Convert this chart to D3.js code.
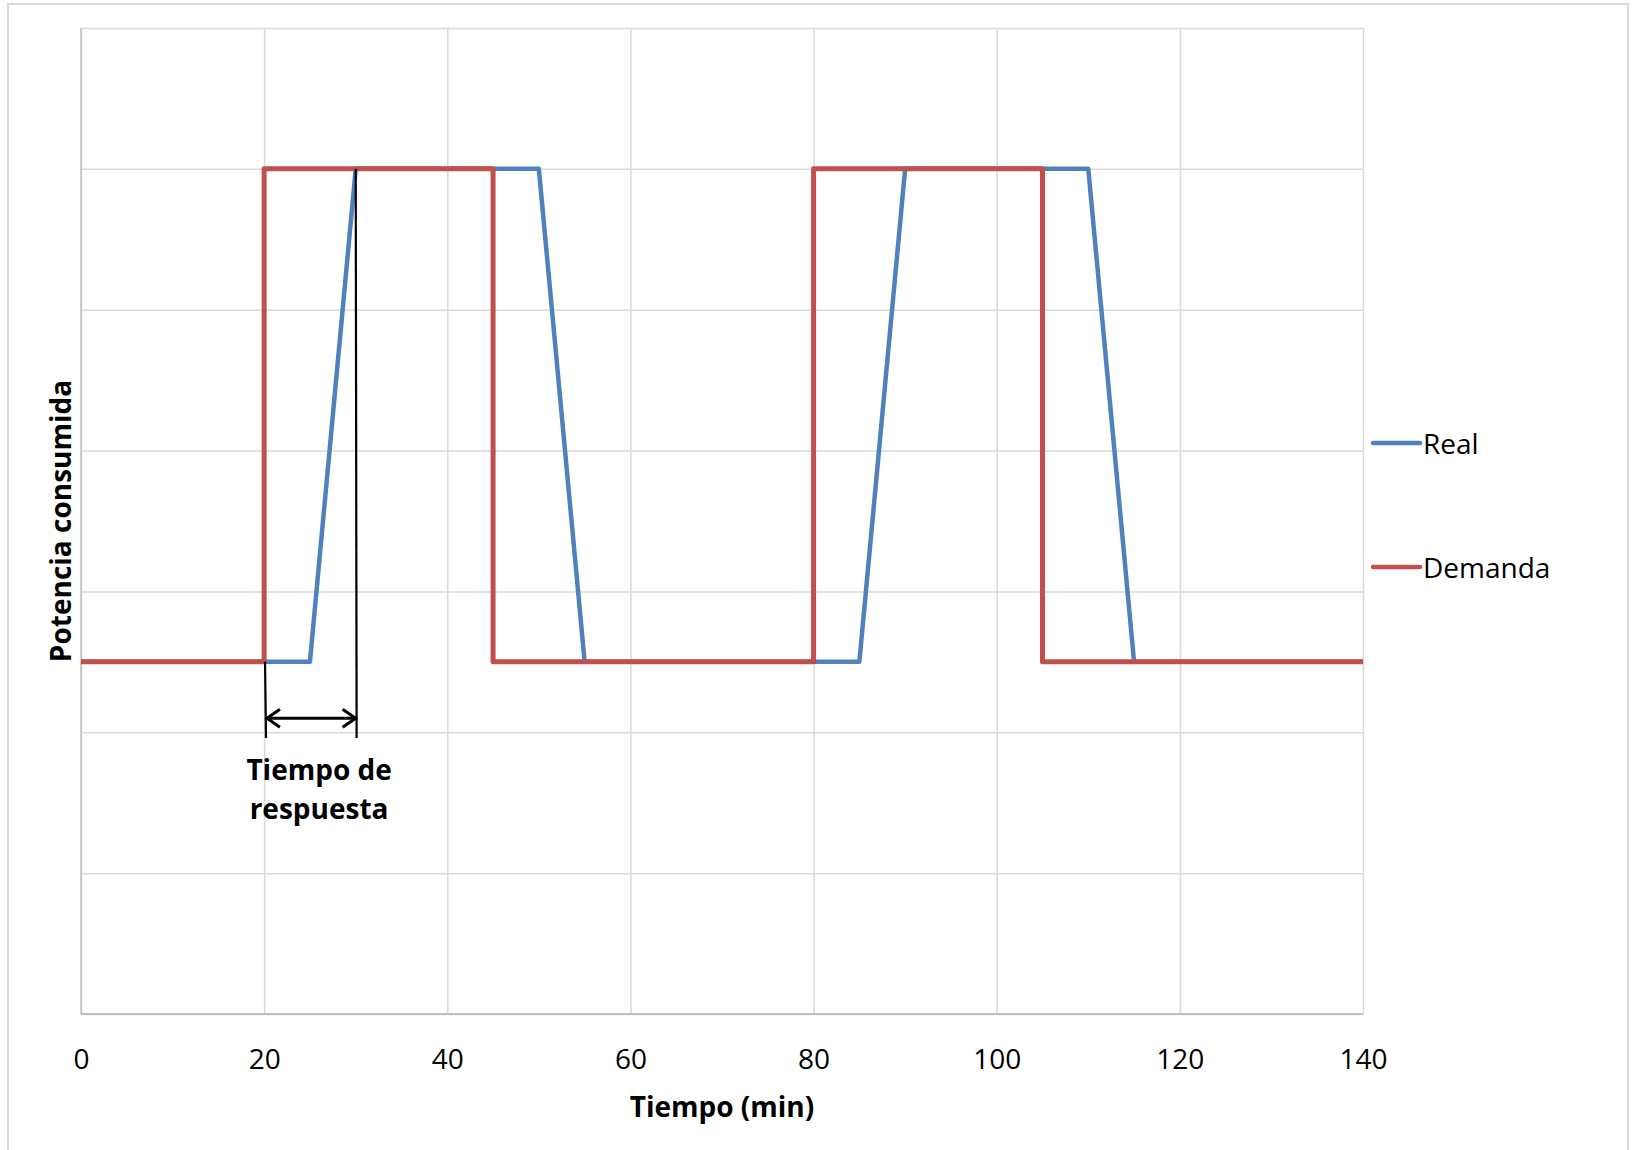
<!DOCTYPE html>
<html>
<head>
<meta charset="utf-8">
<script src="https://cdn.jsdelivr.net/npm/d3@7"></script>
<style>
  body { margin: 0; background: #fff; overflow: hidden; }
  svg { display: block; }
  text { font-family: "Open Sans", sans-serif; fill: #000; }
</style>
</head>
<body>
<svg></svg>
<script>
// data
const realTime = [0, 25, 30, 50, 55, 85, 90, 110, 115, 140];
const realPower = [2.5, 2.5, 6, 6, 2.5, 2.5, 6, 6, 2.5, 2.5];
const demandTime = [0, 20, 20, 45, 45, 80, 80, 105, 105, 140];
const demandPower = [2.5, 2.5, 6, 6, 2.5, 2.5, 6, 6, 2.5, 2.5];
const xTicks = [0, 20, 40, 60, 80, 100, 120, 140];
const yTicks = [0, 1, 2, 3, 4, 5, 6, 7];
const seriesNames = ['Real', 'Demanda'];
const colors = ['#4F81BD', '#C0504D'];

const width = 1632, height = 1150;
const margin = {top: 28, left: 81, right: 269, bottom: 136};
const innerWidth = width - margin.left - margin.right;
const innerHeight = height - margin.top - margin.bottom;

const svg = d3.select('svg')
  .attr('width', width)
  .attr('height', height);

// outer chart frame (bottom edge is outside the picture)
svg.append('path')
  .attr('d', `M8,${height} L8,4 L1628,4 L1628,${height}`)
  .attr('fill', 'none')
  .attr('stroke', '#d9d9d9')
  .attr('stroke-width', 2);

const xScale = d3.scaleLinear().domain([0, 140]).range([0, innerWidth]);
const yScale = d3.scaleLinear().domain([0, 7]).range([innerHeight, 0]);

const g = svg.append('g')
  .attr('transform', `translate(${margin.left}, ${margin.top})`);

// grid
g.append('g').call(d3.axisLeft(yScale).tickValues(yTicks).tickSize(-innerWidth).tickFormat(''))
  .call(a => a.select('.domain').remove())
  .selectAll('.tick line').attr('stroke', '#d9d9d9').attr('stroke-width', 1.5);
g.append('g').call(d3.axisBottom(xScale).tickValues(xTicks).tickSize(innerHeight).tickFormat(''))
  .call(a => a.select('.domain').remove())
  .selectAll('.tick line').attr('stroke', '#d9d9d9').attr('stroke-width', 1.5);

// axes lines
g.append('line')
  .attr('x1', 0).attr('x2', innerWidth)
  .attr('y1', innerHeight).attr('y2', innerHeight)
  .attr('stroke', '#bfbfbf').attr('stroke-width', 2);
g.append('line')
  .attr('x1', 0).attr('x2', 0)
  .attr('y1', 0).attr('y2', innerHeight)
  .attr('stroke', '#bfbfbf').attr('stroke-width', 1.5);

// x tick labels
g.append('g').call(d3.axisBottom(xScale).tickValues(xTicks).tickSize(0).tickPadding(0))
  .attr('transform', `translate(0, ${innerHeight})`)
  .call(a => a.select('.domain').remove())
  .selectAll('text')
  .attr('y', 55)
  .attr('dy', 0)
  .style('font-family', '"Open Sans", sans-serif')
  .style('font-size', '28px')
  .attr('fill', '#000');

// series
const line = d3.line().x(d => xScale(d[0])).y(d => yScale(d[1]));
const real = d3.zip(realTime, realPower);
const demand = d3.zip(demandTime, demandPower);

g.append('path').datum(real)
  .attr('d', line)
  .attr('fill', 'none')
  .attr('stroke', colors[0])
  .attr('stroke-width', 4.5)
  .attr('stroke-linejoin', 'round');

g.append('path').datum(demand)
  .attr('d', line)
  .attr('fill', 'none')
  .attr('stroke', colors[1])
  .attr('stroke-width', 5)
  .attr('stroke-linejoin', 'round');

// response time annotation
g.append('line')
  .attr('x1', xScale(30)).attr('x2', xScale(30.1))
  .attr('y1', yScale(6)).attr('y2', yScale(1.96))
  .attr('stroke', '#000').attr('stroke-width', 2.2);
g.append('line')
  .attr('x1', xScale(20.1)).attr('x2', xScale(20.2))
  .attr('y1', yScale(2.5)).attr('y2', yScale(1.96))
  .attr('stroke', '#000').attr('stroke-width', 2.2);

const ay = yScale(2.1);
const ax1 = xScale(20.2), ax2 = xScale(30.1);
g.append('line')
  .attr('x1', ax1 + 1).attr('x2', ax2 - 1)
  .attr('y1', ay).attr('y2', ay)
  .attr('stroke', '#000').attr('stroke-width', 3);
g.append('path')
  .attr('d', `M${ax1 + 14},${ay - 9} L${ax1 + 1},${ay} L${ax1 + 14},${ay + 9}`)
  .attr('fill', 'none').attr('stroke', '#000').attr('stroke-width', 3);
g.append('path')
  .attr('d', `M${ax2 - 14},${ay - 9} L${ax2 - 1},${ay} L${ax2 - 14},${ay + 9}`)
  .attr('fill', 'none').attr('stroke', '#000').attr('stroke-width', 3);

const note = g.append('text')
  .attr('x', xScale(26))
  .attr('y', yScale(2.1) + 62)
  .attr('text-anchor', 'middle')
  .style('font-size', '28px')
  .style('font-weight', 'bold');
note.append('tspan').attr('x', xScale(26)).text('Tiempo de');
note.append('tspan').attr('x', xScale(26)).attr('dy', 39).text('respuesta');

// axis titles
svg.append('text')
  .attr('x', margin.left + innerWidth / 2)
  .attr('y', 1117)
  .attr('text-anchor', 'middle')
  .style('font-size', '28px')
  .style('font-weight', 'bold')
  .text('Tiempo (min)');

svg.append('text')
  .attr('transform', `translate(71, ${margin.top + innerHeight / 2}) rotate(-90)`)
  .attr('text-anchor', 'middle')
  .style('font-size', '28px')
  .style('font-weight', 'bold')
  .text('Potencia consumida');

// legend
const legend = svg.append('g').attr('transform', 'translate(1373, 443)');
const item = legend.selectAll('g').data(seriesNames).enter().append('g')
  .attr('transform', (d, i) => `translate(0, ${i * 124})`);
item.append('line')
  .attr('x1', 0).attr('x2', 47)
  .attr('stroke', (d, i) => colors[i])
  .attr('stroke-width', 4.5)
  .attr('stroke-linecap', 'round');
item.append('text')
  .attr('x', 50)
  .attr('y', 11)
  .style('font-size', '28px')
  .text(d => d);
</script>
</body>
</html>
